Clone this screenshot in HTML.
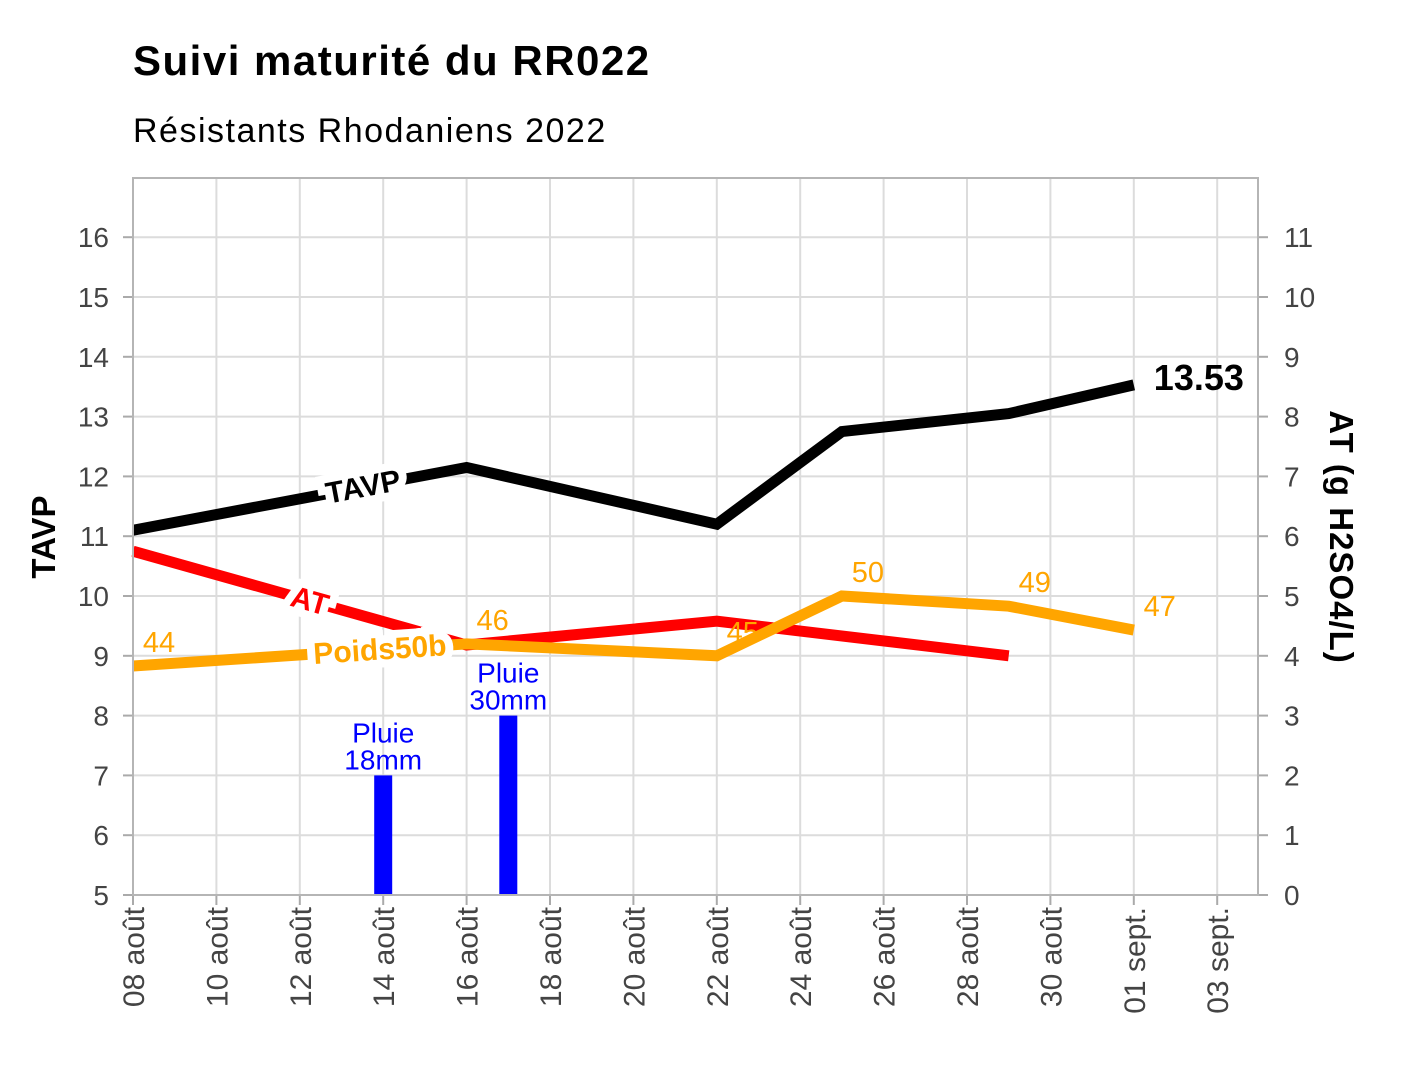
<!DOCTYPE html>
<html><head><meta charset="utf-8"><style>
body{margin:0;background:#fff;}
svg text{font-family:"Liberation Sans",sans-serif;}
</style></head><body>
<svg id="chart" width="1417" height="1062" xmlns="http://www.w3.org/2000/svg">
<text x="133" y="75" font-size="42" font-weight="bold" fill="#000" letter-spacing="1.5">Suivi maturité du RR022</text>
<text x="133" y="142" font-size="34" fill="#000" letter-spacing="1.5">Résistants Rhodaniens 2022</text>
<g id="grid"></g><g id="marks"></g><g id="axes"></g>
</svg>
<script>
const tavpDays=[0,8,14,17,21,24];
const tavpVals=[11.1,12.15,11.2,12.75,13.05,13.53];
const atDays=[0,8,14,21];
const atVals=[5.75,4.18,4.58,4.0];
const poidsDays=[0,8,14,17,21,24];
const poidsVals=[8.83,9.2,9.0,10.0,9.83,9.43];
const poidsLabels=["44","46","45","50","49","47"];
const rainDays=[6,9];
const rainVals=[7,8];
const rainLabels=["18mm","30mm"];
const leftTicks=[5,6,7,8,9,10,11,12,13,14,15,16];
const rightTicks=[0,1,2,3,4,5,6,7,8,9,10,11];
const xTickLabels=["08 août","10 août","12 août","14 août","16 août","18 août","20 août","22 août","24 août","26 août","28 août","30 août","01 sept.","03 sept."];

const L=133,R=1258,T=178,B=895;
const x=d=>L+d*41.7;
const yL=v=>B-(v-5)*59.8;
const yR=v=>B-v*59.8;
const NS="http://www.w3.org/2000/svg";
function mk(tag,attrs,parent,txt){const e=document.createElementNS(NS,tag);for(const k in attrs)e.setAttribute(k,attrs[k]);if(txt!==undefined)e.textContent=txt;parent.appendChild(e);return e;}
const grid=document.getElementById('grid'),marks=document.getElementById('marks'),axes=document.getElementById('axes');

leftTicks.forEach(v=>{const g=mk('line',{x1:L,x2:R,y1:yL(v),y2:yL(v),stroke:'#dcdcdc','stroke-width':2},grid);


const t=mk('text',{x:L-24,y:yL(v)+10,'font-size':28,fill:'#444','text-anchor':'end'},axes,v);


mk('line',{x1:L-10,x2:L,y1:yL(v),y2:yL(v),stroke:'#aaa','stroke-width':2},axes);});
rightTicks.forEach(v=>{const t=mk('text',{x:R+26,y:yR(v)+10,'font-size':28,fill:'#444'},axes,v);


mk('line',{x1:R,x2:R+10,y1:yR(v),y2:yR(v),stroke:'#aaa','stroke-width':2},axes);});
xTickLabels.forEach((s,i)=>{const d=i*2;const g=mk('line',{x1:x(d),x2:x(d),y1:T,y2:B,stroke:'#dcdcdc','stroke-width':2},grid);


mk('line',{x1:x(d),x2:x(d),y1:B,y2:B+10,stroke:'#aaa','stroke-width':2},axes);
const t=mk('text',{transform:`translate(${x(d)+11},${B+12}) rotate(-90)`,'font-size':30,fill:'#444','text-anchor':'end'},axes,s);

});
const fr=mk('rect',{x:L,y:T,width:R-L,height:B-T,fill:'none',stroke:'#b5b5b5','stroke-width':2},axes);


let a=mk('text',{transform:`translate(55,537) rotate(-90)`,'font-size':33,'font-weight':'bold','text-anchor':'middle'},axes,'TAVP');


a=mk('text',{transform:`translate(1330,537) rotate(90)`,'font-size':33,'font-weight':'bold','text-anchor':'middle','letter-spacing':1},axes,'AT (g H2SO4/L)');



rainDays.forEach((d,i)=>{const r=mk('rect',{x:x(d)-9,y:yL(rainVals[i]),width:18,height:B-yL(rainVals[i]),fill:'#0000ff'},marks);


const t=mk('text',{x:x(d),y:yL(rainVals[i])-33,'font-size':28,fill:'#0000ff','text-anchor':'middle'},marks,'Pluie');


const t2=mk('text',{x:x(d),y:yL(rainVals[i])-6,'font-size':28,fill:'#0000ff','text-anchor':'middle'},marks,rainLabels[i]);

});

function line(days,vals,yf,color,name){const p=mk('polyline',{points:days.map((d,i)=>x(d)+','+yf(vals[i])).join(' '),fill:'none',stroke:color,'stroke-width':11,'stroke-linejoin':'miter'},marks);

}
function pathLabel(days,vals,yf,seg,frac,txt,color,name){const x1=x(days[seg]),y1=yf(vals[seg]),x2=x(days[seg+1]),y2=yf(vals[seg+1]);
const px=x1+(x2-x1)*frac,py=y1+(y2-y1)*frac,ang=Math.atan2(y2-y1,x2-x1)*180/Math.PI;
const t=mk('text',{transform:`translate(${px},${py}) rotate(${ang})`,y:10,'font-size':30,'font-weight':'bold',fill:color,'text-anchor':'middle',stroke:'#fff','stroke-width':16,'paint-order':'stroke'},marks,txt);

}
line(atDays,atVals,yR,'#ff0000','at-line');
line(tavpDays,tavpVals,yL,'#000','tavp-line');
line(poidsDays,poidsVals,yL,'#ffa500','poids-line');
pathLabel(atDays,atVals,yR,0,0.53,'AT','#ff0000','at-line-label');
pathLabel(tavpDays,tavpVals,yL,0,0.69,'TAVP','#000','tavp-line-label');
pathLabel(poidsDays,poidsVals,yL,0,0.74,'Poids50b','#ffa500','poids-line-label');
poidsDays.forEach((d,i)=>{const t=mk('text',{x:x(d)+26,y:yL(poidsVals[i])-14,'font-size':29,fill:'#ffa500','text-anchor':'middle'},marks,poidsLabels[i]);

});
const last=tavpVals.length-1;
const lt=mk('text',{x:x(tavpDays[last])+20,y:yL(tavpVals[last])+5,'font-size':36,'font-weight':'bold',fill:'#000'},marks,tavpVals[last].toFixed(2));


</script>
</body></html>
